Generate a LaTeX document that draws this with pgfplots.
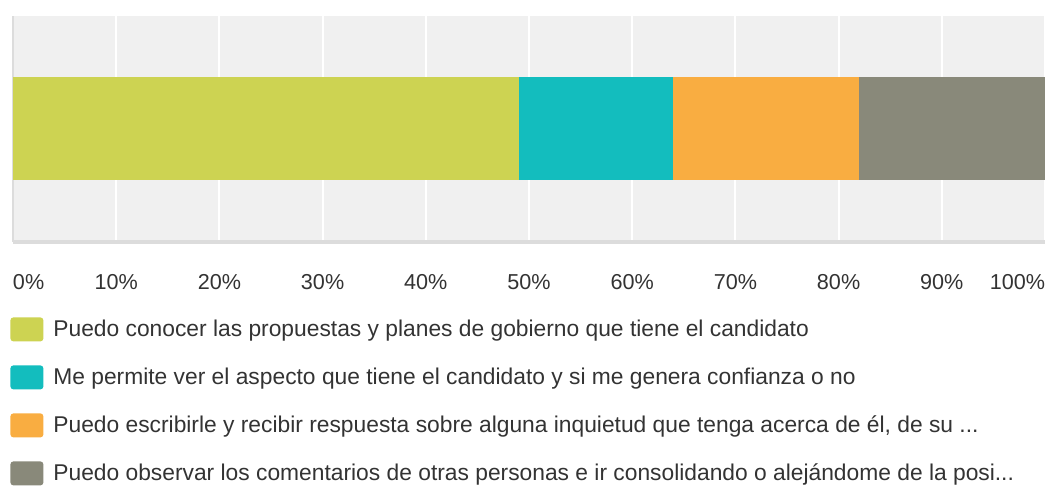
\documentclass[border=0pt]{standalone}
\usepackage{fontspec}
\setmainfont{Liberation Sans}
\usepackage{pgfplots}
\pgfplotsset{compat=1.18}

\definecolor{cGreen}{HTML}{CDD352}
\definecolor{cTeal}{HTML}{13BDBE}
\definecolor{cOrange}{HTML}{F9AD41}
\definecolor{cGray}{HTML}{89897A}
\definecolor{bgGray}{HTML}{F0F0F0}
\definecolor{axisGray}{HTML}{DCDCDC}
\definecolor{txt}{HTML}{333333}

\begin{document}
\begin{tikzpicture}
\begin{axis}[
    xbar stacked,
    scale only axis,
    width=516pt, height=113pt,
    xmin=0, xmax=100, ymin=-1, ymax=1,
    bar width=51.5pt,
    xtick={0,10,20,30,40,50,60,70,80,90,100},
    xticklabels={{\makebox[0pt][l]{0\%}},10\%,20\%,30\%,40\%,50\%,60\%,70\%,80\%,90\%,{\makebox[0pt][r]{100\%}}},
    ytick=\empty,
    major tick length=0pt,
    xmajorgrids,
    major grid style={white, line width=1pt},
    axis background/.style={fill=bgGray},
    axis x line*=bottom, axis y line*=left,
    x axis line style={draw=axisGray, line width=2pt, -},
    y axis line style={draw=axisGray, line width=1pt, -},
    ticklabel style={font=\fontsize{10.8}{12}\selectfont, text=txt},
    xticklabel style={yshift=-12.5pt},
    legend cell align=left,
    legend style={at={(0,0)}, anchor=north west, xshift=-1.5pt, yshift=-37.5pt,
        draw=none, fill=none, inner sep=0pt, row sep=12pt, column sep=5pt,
        font=\fontsize{11.4}{12}\selectfont, text=txt, nodes={inner sep=0pt}},
    every axis plot post/.append style={draw=none,
        legend image code/.code={\fill[##1, draw=none, rounded corners=1.5pt] (0pt,-6pt) rectangle (16.5pt,6pt);}},
]
\addplot[fill=cGreen] coordinates {(49,0)};
\addlegendentry{Puedo conocer las propuestas y planes de gobierno que tiene el candidato}
\addplot[fill=cTeal] coordinates {(15,0)};
\addlegendentry{Me permite ver el aspecto que tiene el candidato y si me genera confianza o no}
\addplot[fill=cOrange] coordinates {(18,0)};
\addlegendentry{Puedo escribirle y recibir respuesta sobre alguna inquietud que tenga acerca de él, de su ...}
\addplot[fill=cGray] coordinates {(18,0)};
\addlegendentry{Puedo observar los comentarios de otras personas e ir consolidando o alejándome de la posi...}
\end{axis}
\pgfresetboundingbox
\path[use as bounding box] (-6.5pt,-124.5pt) rectangle (516pt,121pt);
\end{tikzpicture}
\end{document}
